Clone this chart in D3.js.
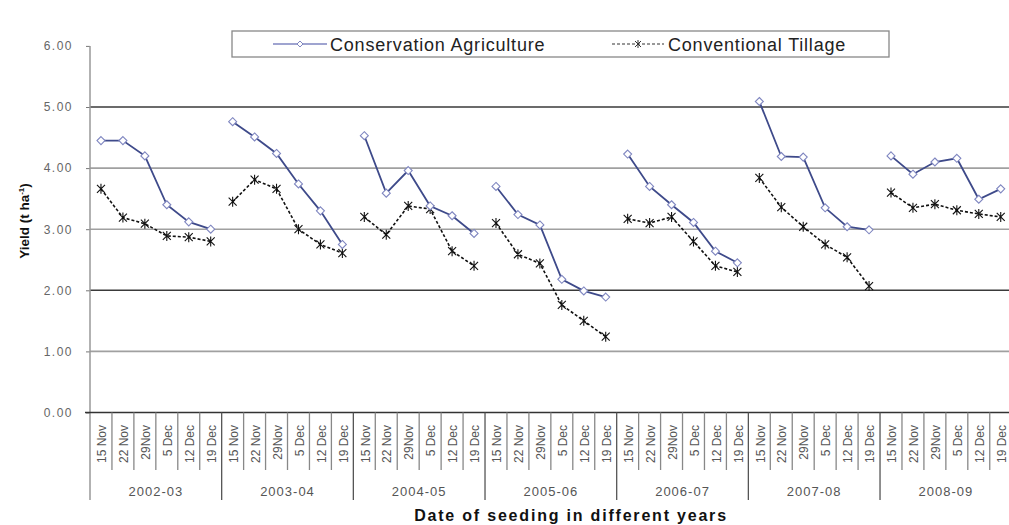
<!DOCTYPE html>
<html><head><meta charset="utf-8">
<script src="https://cdn.jsdelivr.net/npm/d3@7"></script>
<style>
html,body{margin:0;padding:0;background:#fff;}
svg{display:block;font-family:"Liberation Sans",Arial,sans-serif;}
</style></head>
<body>
<svg id="chart" width="1009" height="525"></svg>
<script>
const years = ["2002-03","2003-04","2004-05","2005-06","2006-07","2007-08","2008-09"];
const dates = ["15 Nov","22 Nov","29Nov","5 Dec","12 Dec","19 Dec"];
const conservation = [
  [4.45,4.45,4.20,3.40,3.12,3.00],
  [4.76,4.51,4.24,3.74,3.30,2.75],
  [4.53,3.59,3.96,3.38,3.22,2.93],
  [3.70,3.24,3.07,2.18,1.99,1.89],
  [4.23,3.70,3.40,3.11,2.64,2.45],
  [5.09,4.19,4.18,3.35,3.04,2.99],
  [4.20,3.90,4.10,4.16,3.49,3.66]
];
const conventional = [
  [3.66,3.19,3.09,2.89,2.87,2.80],
  [3.45,3.81,3.66,3.00,2.75,2.61],
  [3.20,2.91,3.38,3.33,2.64,2.40],
  [3.10,2.59,2.44,1.76,1.50,1.24],
  [3.17,3.10,3.20,2.80,2.40,2.30],
  [3.84,3.36,3.04,2.75,2.54,2.07],
  [3.60,3.35,3.41,3.31,3.25,3.20]
];
const yTicks = [0,1,2,3,4,5,6];
const seriesNames = ["Conservation Agriculture","Conventional Tillage"];

const svg = d3.select("#chart");
const pLeft = 90, pRight = 1011.7, pTop = 45.9, pBottom = 412.5;

const cats = [];
years.forEach((yr)=>dates.forEach((d,j)=>cats.push(yr+"|"+j)));
const x = d3.scaleBand().domain(cats).range([pLeft,pRight]).padding(0);
const xYear = d3.scaleBand().domain(years).range([pLeft,pRight]).padding(0);
const y = d3.scaleLinear().domain([0,6]).range([pBottom,pTop]);

// gridlines
const dark = new Set([2,5]);
svg.append("g").selectAll("line").data(yTicks.filter(t=>t>0 && t<6)).join("line")
  .attr("x1",pLeft).attr("x2",1009)
  .attr("y1",d=>y(d)).attr("y2",d=>y(d))
  .attr("stroke",d=>dark.has(d)?"#3a3a3a":"#a0a0a0")
  .attr("stroke-width",1.6);

// y axis
const yAxis = d3.axisLeft(y).tickValues(yTicks).tickFormat(d3.format(".2f")).tickSize(4).tickPadding(13);
const ga = svg.append("g").attr("transform",`translate(${pLeft},0)`).call(yAxis);
ga.select(".domain").remove();
ga.selectAll(".tick line").attr("stroke","#777");
ga.selectAll(".tick text").attr("fill","#666").attr("font-size",12).attr("letter-spacing","1.5px")
  .attr("font-family","Liberation Sans, Arial, sans-serif");
svg.append("line").attr("x1",pLeft).attr("x2",pLeft).attr("y1",pTop).attr("y2",500).attr("stroke","#999").attr("stroke-width",1.5);

// x axis baseline
svg.append("line").attr("x1",pLeft-5).attr("x2",1009).attr("y1",pBottom).attr("y2",pBottom).attr("stroke","#333").attr("stroke-width",1.6);

// category separators
const gx = svg.append("g");
cats.forEach((c,i)=>{
  if(i===0) return;
  const xx = x(c);
  const isYear = i%6===0;
  gx.append("line").attr("x1",xx).attr("x2",xx).attr("y1",pBottom).attr("y2",isYear?500:470)
    .attr("stroke",isYear?"#555":"#888").attr("stroke-width",1.3);
});
gx.append("line").attr("x1",pRight).attr("x2",pRight).attr("y1",pBottom).attr("y2",500).attr("stroke","#999");

// date labels
gx.selectAll("text.date").data(cats).join("text").attr("class","date")
  .attr("transform",d=>`translate(${x(d)+x.bandwidth()/2+1},425) rotate(-90)`)
  .attr("text-anchor","end").attr("dy","0.35em")
  .attr("font-size",12).attr("fill","#555")
  .text(d=>dates[+d.split("|")[1]]);

// year labels
gx.selectAll("text.year").data(years).join("text").attr("class","year")
  .attr("x",d=>xYear(d)+xYear.bandwidth()/2).attr("y",496)
  .attr("text-anchor","middle").attr("font-size",13).attr("letter-spacing","1px").attr("fill","#555").text(d=>d);

// axis titles
svg.append("text").attr("x",571).attr("y",521).attr("text-anchor","middle")
  .attr("font-size",16).attr("letter-spacing","1.8px").attr("font-weight","bold").attr("fill","#111")
  .text("Date of seeding in different years");
const yt = svg.append("text").attr("transform","translate(29,221) rotate(-90)").attr("text-anchor","middle")
  .attr("font-size",13.5).attr("font-weight","bold").attr("fill","#111");
yt.append("tspan").text("Yield (t ha");
yt.append("tspan").attr("font-size",8).attr("dy",-5).text("-1");
yt.append("tspan").attr("dy",5).text(")");

// lines
const line = d3.line().x(d=>x(d.c)+x.bandwidth()/2).y(d=>y(d.v));
const toPts = (arr,yi)=>arr.map((v,j)=>({c:years[yi]+"|"+j,v}));
const diamond = "M0,-4L4,0L0,4L-4,0Z";
const star = "M-4,-4L4,4M-4,4L4,-4M0,-5L0,5";

conventional.forEach((arr,i)=>{
  const pts = toPts(arr,i);
  svg.append("path").datum(pts).attr("d",line).attr("fill","none")
    .attr("stroke","#111").attr("stroke-width",1.6).attr("stroke-dasharray","3,2");
  svg.append("g").selectAll("path").data(pts).join("path")
    .attr("transform",d=>`translate(${x(d.c)+x.bandwidth()/2},${y(d.v)})`)
    .attr("d",star).attr("stroke","#111").attr("stroke-width",1.1).attr("fill","none");
});
conservation.forEach((arr,i)=>{
  const pts = toPts(arr,i);
  svg.append("path").datum(pts).attr("d",line).attr("fill","none")
    .attr("stroke","#3e4a8a").attr("stroke-width",1.8);
  svg.append("g").selectAll("path").data(pts).join("path")
    .attr("transform",d=>`translate(${x(d.c)+x.bandwidth()/2},${y(d.v)})`)
    .attr("d",diamond).attr("fill","#fff").attr("stroke","#7f86c0").attr("stroke-width",1.1);
});

// legend
const lg = svg.append("g");
lg.append("rect").attr("x",232).attr("y",31).attr("width",657).attr("height",26)
  .attr("fill","#fff").attr("stroke","#888").attr("stroke-width",1.3);
lg.append("line").attr("x1",273).attr("x2",327).attr("y1",44).attr("y2",44).attr("stroke","#7f86c0").attr("stroke-width",1.5);
lg.append("path").attr("transform","translate(300,44)").attr("d","M0,-3L3,0L0,3L-3,0Z").attr("fill","#fff").attr("stroke","#7f86c0");
lg.append("text").attr("x",330).attr("y",50.5).attr("font-size",18).attr("letter-spacing","0.8px").attr("fill","#222").text(seriesNames[0]);
lg.append("line").attr("x1",612).attr("x2",664).attr("y1",44).attr("y2",44).attr("stroke","#333").attr("stroke-width",1.2).attr("stroke-dasharray","3,2");
lg.append("path").attr("transform","translate(638,44)").attr("d","M-3,-3L3,3M-3,3L3,-3M0,-4L0,4").attr("stroke","#333").attr("fill","none");
lg.append("text").attr("x",668).attr("y",50.5).attr("font-size",18).attr("letter-spacing","0.8px").attr("fill","#222").text(seriesNames[1]);
</script>
</body></html>
